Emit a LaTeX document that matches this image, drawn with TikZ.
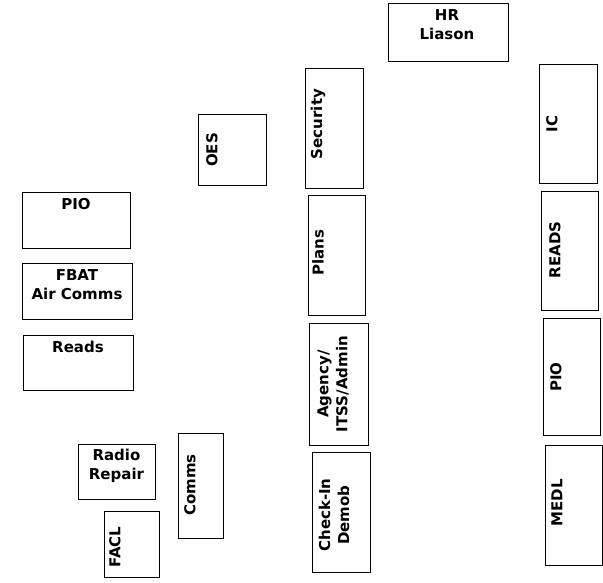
\documentclass[tikz,border=0pt]{standalone}
\usepackage{fontspec}
\setmainfont{DejaVu Sans}
\begin{document}
\begin{tikzpicture}[x=1pt,y=-1pt,
  box/.style={draw=black, line width=0.9pt, inner sep=0pt, fill=white},
  txt/.style={font=\fontsize{15}{19}\selectfont\bfseries, inner sep=0pt, align=center},
  rtxt/.style={txt, rotate=90}]
\useasboundingbox[fill=white] (0,0) rectangle (603,582);
% left column
\node[box, minimum width=108pt, minimum height=56pt] (pioL) at (76,220) {};
\node[txt] (pioLt) at (76,204) {PIO};
\node[box, minimum width=110pt, minimum height=56pt] (fbat) at (77,291) {};
\node[txt] (fbatt) at (77,285) {FBAT\\Air Comms};
\node[box, minimum width=110pt, minimum height=55pt] (readsL) at (78,362.5) {};
\node[txt] (readsLt) at (78,347) {Reads};
% bottom left
\node[box, minimum width=77pt, minimum height=55pt] (radio) at (116.5,471.5) {};
\node[txt] (radiot) at (116.5,465.5) {Radio\\Repair};
\node[box, minimum width=55pt, minimum height=66pt] (facl) at (131.5,544) {};
\node[rtxt] (faclt) at (115,547) {FACL};
\node[box, minimum width=45pt, minimum height=105pt] (comms) at (200.5,485.5) {};
\node[rtxt] (commst) at (190,485) {Comms};
% middle
\node[box, minimum width=68pt, minimum height=71pt] (oes) at (232,149.5) {};
\node[rtxt] (oest) at (212,150) {OES};
\node[box, minimum width=58pt, minimum height=120pt] (security) at (334,128) {};
\node[rtxt] (securityt) at (318,124) {Security};
\node[box, minimum width=57pt, minimum height=120pt] (plans) at (336.5,255) {};
\node[rtxt] (planst) at (318,253) {Plans};
\node[box, minimum width=59pt, minimum height=122pt] (agency) at (338.5,384) {};
\node[rtxt] (agencyt) at (333,384) {Agency/\\ITSS/Admin};
\node[box, minimum width=58pt, minimum height=120pt] (checkin) at (341,512) {};
\node[rtxt] (checkint) at (334,515) {Check-In\\Demob};
% top right
\node[box, minimum width=120pt, minimum height=58pt] (hr) at (448,32) {};
\node[txt] (hrt) at (447,25) {HR\\Liason};
% right column
\node[box, minimum width=58pt, minimum height=119pt] (ic) at (568,123.5) {};
\node[rtxt] (ict) at (552,124) {IC};
\node[box, minimum width=57pt, minimum height=119pt] (readsR) at (569.5,250.5) {};
\node[rtxt] (readsRt) at (555,250) {READS};
\node[box, minimum width=57pt, minimum height=117pt] (pioR) at (571.5,376.5) {};
\node[rtxt] (pioRt) at (556,377) {PIO};
\node[box, minimum width=57pt, minimum height=120pt] (medl) at (573.5,505) {};
\node[rtxt] (medlt) at (557,503) {MEDL};
\end{tikzpicture}
\end{document}
